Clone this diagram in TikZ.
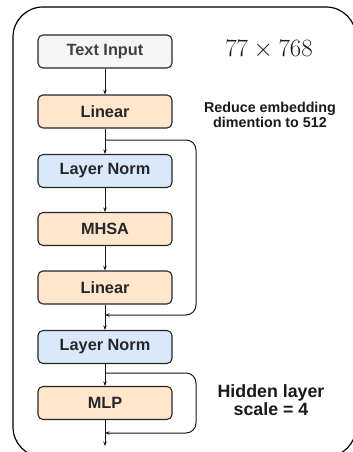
\documentclass[tikz,border=0pt]{standalone}
\usepackage{fontspec}
\setsansfont{Liberation Sans}
\usetikzlibrary{arrows.meta}
\begin{document}
\begin{tikzpicture}[x=1pt,y=1pt,
  blk/.style={draw=black!85, line width=1.1pt, rounded corners=5pt, minimum width=134pt, minimum height=33pt, inner sep=0pt,
    font=\sffamily\bfseries\fontsize{16.3}{17}\selectfont, text=black!85},
  gray/.style={blk, fill=black!4, text=black!75},
  orange/.style={blk, fill={rgb,255:red,255;green,230;blue,204}},
  blue/.style={blk, fill={rgb,255:red,218;green,232;blue,252}},
  conn/.style={line width=1pt, draw=black!90, -{Stealth[length=4.5pt,width=3.5pt]}},
  note/.style={align=center, text=black!90}
]
\useasboundingbox (0,0) rectangle (353,-452);
\draw[line width=1.2pt, rounded corners=30pt] (13,-7) rectangle (356,-457);

\node[gray]   (ti)  at (105,-51.5) {Text Input};
\node[orange] (lin1) at (105,-111.5) {Linear};
\node[blue]   (ln1) at (105,-171) {Layer Norm};
\node[orange] (mhsa) at (105,-229) {MHSA};
\node[orange] (lin2) at (105,-287.5) {Linear};
\node[blue]   (ln2) at (105,-347) {Layer Norm};
\node[orange] (mlp) at (105,-403) {MLP};

\coordinate (r1a) at (105,-140);
\coordinate (r1b) at (196,-140);
\coordinate (r1c) at (196,-315);
\coordinate (r1d) at (105,-315);
\coordinate (r2a) at (105,-373);
\coordinate (r2b) at (196,-373);
\coordinate (r2c) at (196,-433);
\coordinate (r2d) at (105,-433);
\coordinate (out) at (105,-446);

\draw[conn] (ti) -- (lin1);
\draw[conn] (lin1) -- (ln1);
\draw[conn] (ln1) -- (mhsa);
\draw[conn] (mhsa) -- (lin2);
\draw[conn] (lin2) -- (ln2);
\draw[conn] (ln2) -- (mlp);
\draw[conn] (mlp) -- (out);
\draw[conn, rounded corners=10pt] (r1a) -- (r1b) -- (r1c) -- (r1d);
\draw[conn, rounded corners=10pt] (r2a) -- (r2b) -- (r2c) -- (r2d);

\node[note] (dim) at (269,-50) {\fontsize{24}{26}\selectfont $77\times768$};
\node[note, font=\sffamily\bfseries\fontsize{14.3}{13}\selectfont] (red) at (270,-115) {Reduce embedding\\dimention to 512};
\node[note, font=\sffamily\bfseries\fontsize{17.8}{14.5}\selectfont] (hid) at (271,-400) {Hidden layer\\scale = 4};
\end{tikzpicture}
\end{document}
